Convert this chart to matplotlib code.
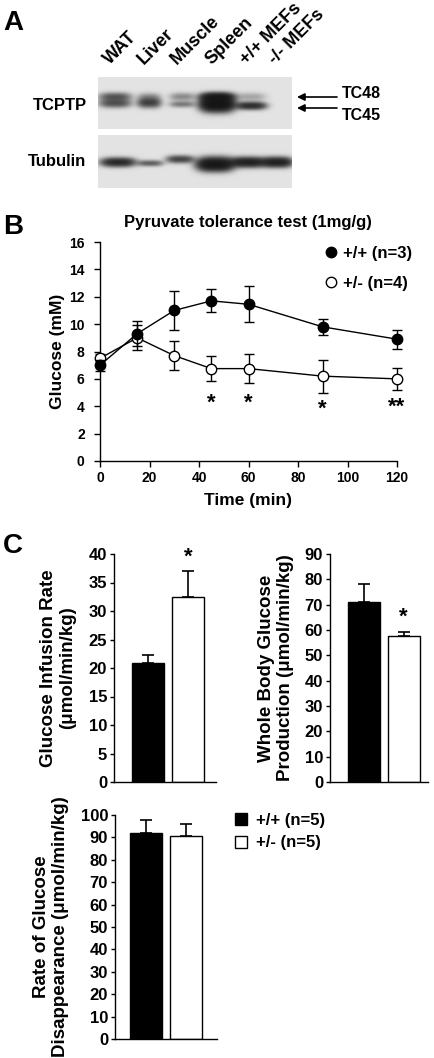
import matplotlib
matplotlib.use("Agg")
import matplotlib.pyplot as plt
from matplotlib.lines import Line2D
from matplotlib.patches import Patch
import numpy as np

plt.rcParams["font.family"] = ["Liberation Sans", "DejaVu Sans"]
plt.rcParams["font.weight"] = "bold"
plt.rcParams["axes.labelweight"] = "bold"
plt.rcParams["axes.linewidth"] = 1.0

# ---- Panel A: western blot (band intensities, arbitrary units)
lanes = ["WAT", "Liver", "Muscle", "Spleen", "+/+ MEFs", "-/- MEFs"]
tc48 = [1.1, 0.45, 0.55, 2.5, 0.35, 0.0]
tc45 = [1.2, 1.5, 0.7, 4.0, 2.0, 0.0]
tubulin = [2.2, 1.0, 1.4, 3.5, 2.6, 2.6]

# ---- Panel B: pyruvate tolerance test
time_min = [0, 15, 30, 45, 60, 90, 120]
wt_glu = [7.0, 9.3, 11.0, 11.7, 11.45, 9.8, 8.9]
wt_err = [0.4, 0.9, 1.4, 0.85, 1.3, 0.6, 0.7]
het_glu = [7.5, 9.0, 7.7, 6.75, 6.75, 6.2, 6.0]
het_err = [0.35, 0.9, 1.05, 0.9, 1.05, 1.2, 0.8]
sig_time = [45, 60, 90, 120]
sig_y = [4.7, 4.7, 4.3, 4.45]
sig_mark = ["*", "*", "*", "**"]

# ---- Panel C: clamp data
gir = [20.9, 32.4]
gir_err = [1.3, 4.7]
hgp = [71.1, 57.8]
hgp_err = [7.0, 1.5]
rd = [92.0, 90.5]
rd_err = [5.9, 5.5]

W, H = 434, 1058
fig = plt.figure(figsize=(W / 100, H / 100), dpi=100)


def px_axes(x0, y0, x1, y1):
    return fig.add_axes([x0 / W, 1 - y1 / H, (x1 - x0) / W, (y1 - y0) / H])


def blot(x0, x1, y0, y1, centers, widths, rows):
    xs = np.arange(x0, x1, 0.5)
    ys = np.arange(y0, y1, 0.5)
    X, Y = np.meshgrid(xs, ys)
    dens = np.zeros_like(X)
    for yc, sy, amps in rows:
        for i, (cx, w, a) in enumerate(zip(centers, widths, amps)):
            yy = yc[i] if np.ndim(yc) else yc
            ss = sy[i] if np.ndim(sy) else sy
            dens += a * np.exp(-np.abs((X - cx) / w) ** 3) * np.exp(-((Y - yy) / ss) ** 2)
    dark = 1 - np.exp(-dens)
    return 0.89 - (0.89 - 0.07) * dark


# ---------------- Panel A
axA = px_axes(0, 0, W, 205)
axA.set_xlim(0, W)
axA.set_ylim(205, 0)
axA.axis("off")

c_tc = [115, 149, 182, 217, 251, 280]
w_tc = [15, 11, 12, 16, 14, 13]
img1 = blot(98, 292, 77, 129, c_tc, w_tc,
            [(96.5, 3.8, tc48),
             ([103, 102.5, 104, 104, 105.5, 104], [4.0, 4.5, 3.0, 6.5, 3.5, 3.0], tc45)])
axA.imshow(img1, cmap="gray", vmin=0, vmax=1, extent=(98, 292, 129, 77),
           aspect="auto", interpolation="bilinear")

c_tub = [118, 150, 180, 215, 248, 277]
w_tub = [16, 12, 13, 17, 16, 14]
img2 = blot(98, 292, 135, 188, c_tub, w_tub,
            [([162, 163, 159, 164, 162, 162], [4.0, 2.8, 3.5, 6.0, 4.5, 4.5], tubulin)])
axA.imshow(img2, cmap="gray", vmin=0, vmax=1, extent=(98, 292, 188, 135),
           aspect="auto", interpolation="bilinear")

for lx, lab in zip(c_tc, lanes):
    axA.text(lx - 5, 65, lab, rotation=45, rotation_mode="anchor",
             ha="left", va="baseline", fontsize=13)

axA.text(87, 106, "TCPTP", ha="right", va="center", fontsize=12)
axA.text(86, 162, "Tubulin", ha="right", va="center", fontsize=12)
for ya in (97, 108):
    axA.annotate("", xy=(297, ya), xytext=(337, ya),
                 arrowprops=dict(arrowstyle="-|>", color="black", lw=1.2,
                                 mutation_scale=11, shrinkA=0, shrinkB=0))
axA.text(342, 93, "TC48", ha="left", va="center", fontsize=11.5)
axA.text(342, 115, "TC45", ha="left", va="center", fontsize=11.5)
axA.text(3, 23, "A", ha="left", va="center", fontsize=20)

# ---------------- Panel B
fig.text(3 / W, 1 - 227 / H, "B", ha="left", va="center", fontsize=20)
fig.text(248 / W, 1 - 223 / H, "Pyruvate tolerance test (1mg/g)",
         ha="center", va="center", fontsize=12)

axB = px_axes(100, 242, 397, 461)
axB.errorbar(time_min, het_glu, yerr=het_err, color="black", lw=1, capsize=3.6,
             elinewidth=1, capthick=1, marker="o", ms=7.5, mfc="white",
             mec="black", mew=1, clip_on=False, zorder=3)
axB.errorbar(time_min, wt_glu, yerr=wt_err, color="black", lw=1, capsize=3.6,
             elinewidth=1, capthick=1, marker="o", ms=7.5, mfc="black",
             mec="black", clip_on=False, zorder=4)
for t, y, m in zip(sig_time, sig_y, sig_mark):
    axB.annotate(m, (t, y), xytext=(0, -0.55 * 16), textcoords="offset points",
                 ha="center", va="baseline", fontsize=16)
axB.set_xlim(0, 120)
axB.set_ylim(0, 16)
axB.set_xticks(range(0, 121, 20))
axB.set_yticks(range(0, 17, 2))
axB.spines[["top", "right"]].set_visible(False)
axB.tick_params(axis="y", direction="out", length=4, width=1, pad=7, labelsize=10)
axB.tick_params(axis="x", direction="out", length=4, width=1, pad=3, labelsize=10)
axB.set_xlabel("Time (min)", fontsize=12.5, labelpad=6)
axB.set_ylabel("Glucose (mM)", fontsize=12.5, labelpad=3)
hB = [Line2D([], [], ls="none", marker="o", ms=7.5, mfc="black", mec="black"),
      Line2D([], [], ls="none", marker="o", ms=7.5, mfc="white", mec="black")]
axB.legend(hB, ["+/+ (n=3)", "+/- (n=4)"], loc="upper left",
           bbox_to_anchor=(324 / W, 1 - 246 / H), bbox_transform=fig.transFigure,
           frameon=False, fontsize=12, handlelength=0.8, handletextpad=0.35,
           labelspacing=0.9, borderpad=0, borderaxespad=0)

# ---------------- Panel C
fig.text(3 / W, 1 - 546 / H, "C", ha="left", va="center", fontsize=20)


def bar_panel(box, vals, errs, ymax, step, xl, ylabel, pad):
    ax = px_axes(*box)
    ax.bar([0, 1], vals, width=0.8, color=["black", "white"],
           edgecolor="black", linewidth=1, zorder=2)
    ax.errorbar([0, 1], vals, yerr=[[0, 0], errs], fmt="none", ecolor="black",
                elinewidth=1.2, capsize=4, capthick=1.2, zorder=1)
    ax.set_xlim(*xl)
    ax.set_ylim(0, ymax)
    ax.set_yticks(np.arange(0, ymax + 1, step))
    ax.set_xticks([])
    ax.spines[["top", "right"]].set_visible(False)
    ax.tick_params(axis="y", direction="out", length=3, width=1, pad=2, labelsize=12)
    ax.set_ylabel(ylabel, fontsize=13.5, labelpad=pad, linespacing=1.15)
    return ax


axC1 = bar_panel((114, 554, 216, 782), gir, gir_err, 40, 5, (-0.85, 1.70),
                 "Glucose Infusion Rate\n(μmol/min/kg)", 9)
axC1.annotate("*", (1, 40.7), xytext=(0, -0.55 * 16), textcoords="offset points",
              ha="center", va="baseline", fontsize=16, annotation_clip=False)

axC2 = bar_panel((330, 554, 428, 782), hgp, hgp_err, 90, 10, (-0.84, 1.61),
                 "Whole Body Glucose\nProduction (μmol/min/kg)", 8)
axC2.annotate("*", (1, 67.6), xytext=(0, -0.55 * 16), textcoords="offset points",
              ha="center", va="baseline", fontsize=16)

axC3 = bar_panel((115, 815, 217, 1039), rd, rd_err, 100, 10, (-0.78, 1.78),
                 "Rate of Glucose\nDisappearance (μmol/min/kg)", 8)
hC = [Patch(facecolor="black", edgecolor="black"),
      Patch(facecolor="white", edgecolor="black")]
axC3.legend(hC, ["+/+ (n=5)", "+/- (n=5)"], loc="upper left",
            bbox_to_anchor=(235 / W, 1 - 813 / H), bbox_transform=fig.transFigure,
            frameon=False, fontsize=12, handlelength=0.74, handleheight=0.72,
            handletextpad=0.5, labelspacing=0.45, borderpad=0, borderaxespad=0)

fig.savefig("out.png", dpi=100)
